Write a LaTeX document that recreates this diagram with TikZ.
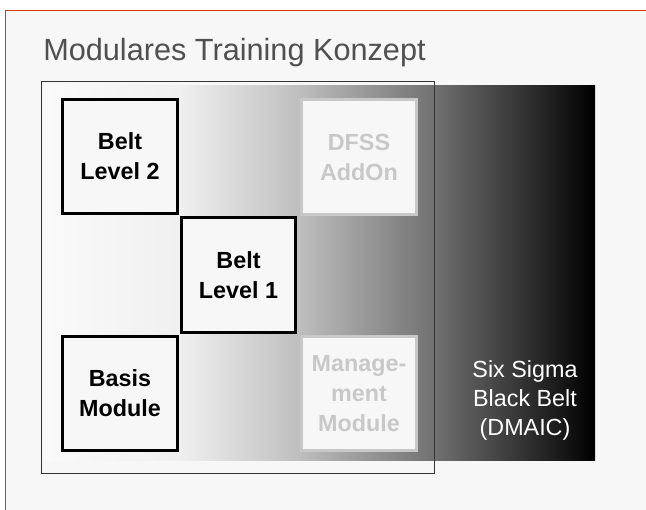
\documentclass[tikz,border=0pt]{standalone}
\usepackage{fontspec}
\setmainfont{Liberation Sans}
\definecolor{frcol}{RGB}{212,58,10}
\definecolor{bgcol}{RGB}{247,247,247}
\definecolor{ttcol}{RGB}{80,80,80}
\definecolor{offcol}{RGB}{200,200,200}
\tikzset{every picture/.style={x=0.75pt,y=-0.75pt}}
\tikzset{module/.style={draw=black,line width=2.25pt,fill=bgcol,minimum width=86pt,minimum height=86pt,inner sep=0pt,align=center,font=\fontsize{17.5}{22.5}\selectfont\bfseries}}
\tikzset{addon/.style={module,draw=offcol,text=offcol}}
\tikzset{band/.style={line width=0pt}}
\begin{document}
\begin{tikzpicture}
\useasboundingbox (0,0) rectangle (646,510);
\clip (0,0) rectangle (646,510);
\fill [white] (0,0) rectangle (646,510);
\draw [frcol,fill=bgcol,line width=1pt] (5.5,10.5) rectangle (670,530);

\node [anchor=base west,inner sep=0pt,text=ttcol,font=\fontsize{23}{28}\selectfont] (title) at (43,61) {Modulares Training Konzept};

% grey to black band
\fill [band,left color=black!2,right color=black!6] (45,86) rectangle (180.5,460);
\fill [band,left color=black!6,right color=black!25] (180,86) rectangle (297.5,460);
\fill [band,left color=black!25,right color=black!56] (297,86) rectangle (435.5,460);
\fill [band,left color=black!56,right color=black] (435,86) rectangle (595,460);
\draw [black!80,line width=0.75pt] (41.5,82) rectangle (434.5,473);

\node [module] (bl2) at (120,156.5) {Belt\\Level 2};
\node [module] (bl1) at (238.5,275) {Belt\\Level 1};
\node [module] (bm) at (120,393.5) {Basis\\Module};
\node [addon] (dfss) at (359,157) {DFSS\\AddOn};
\node [addon] (mgmt) at (359,393.5) {Manage-\\ment\\Module};

\node [text=white,align=center,font=\fontsize{17.5}{21.75}\selectfont] (bb) at (525,400) {Six Sigma\\Black Belt\\(DMAIC)};
\end{tikzpicture}
\end{document}
